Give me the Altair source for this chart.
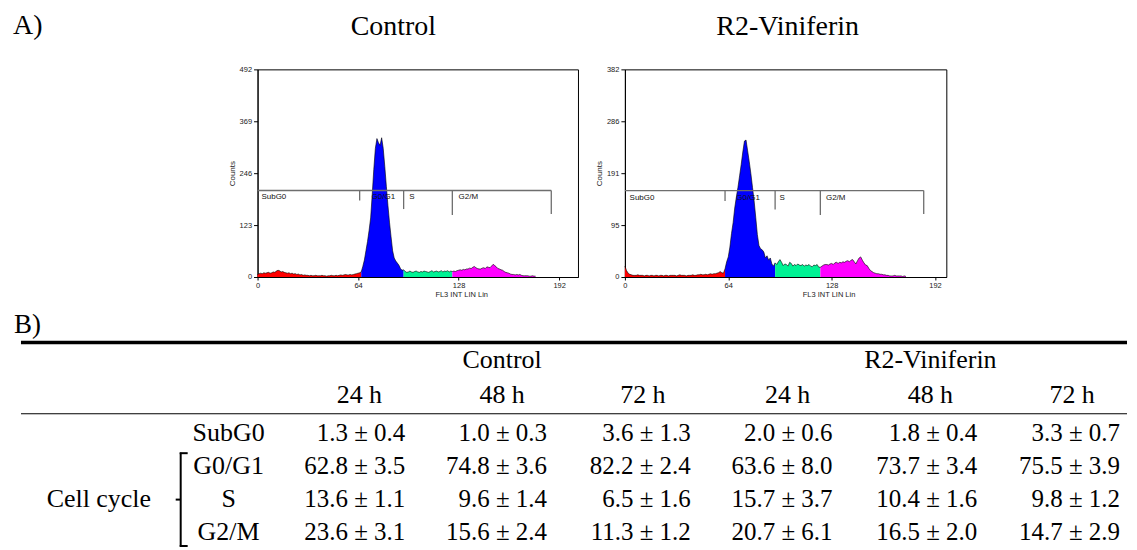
import altair as alt
import pandas as pd

# ---------------- data ----------------
phases = ["SubG0", "G0/G1", "S", "G2/M"]
phase_colors = ["#FF0000", "#0000FF", "#00F294", "#FF00FF"]

# Control histogram (counts per FL3 channel, consecutive channels starting at 0)
ctrl_subg0 = [6, 8, 9, 8, 10, 9, 10, 11, 9, 10,
              12, 11, 14, 16, 15, 12, 13, 11, 10, 9,
              10, 8, 9, 7, 8, 6, 7, 5, 6, 4,
              5, 4, 4, 3, 4, 3, 3, 4, 3, 3,
              3, 4, 3, 3, 2, 3, 3, 4, 3, 3,
              4, 3, 4, 5, 4, 5, 6, 5, 5, 6,
              5, 6, 7, 8, 9, 10]
ctrl_g0g1 = [12, 25, 40, 62, 84, 110, 140, 195, 255, 305, 328, 318, 312, 330,
             305, 262, 215, 170, 130, 95, 62, 45, 38, 33, 28, 20, 16]
ctrl_s = [17, 13, 11, 12, 14, 12, 11, 13, 14, 12, 11, 13, 12, 14, 13, 12,
          11, 13, 15, 12, 13, 14, 12, 13, 15, 12, 14, 13, 15, 12, 14]
ctrl_g2m = [13, 14, 13, 15, 16, 17, 16, 18, 17, 19, 19, 21, 20, 23, 25, 22,
            20, 19, 19, 21, 22, 20, 24, 23, 22, 26, 30, 27, 24, 20, 19, 17,
            16, 13, 11, 10, 9, 7, 6, 6, 5, 6, 5, 6, 4, 3, 3, 3, 3, 2, 2, 3, 2, 2]

# R2-Viniferin histogram
r2_subg0 = [20, 12, 7, 5, 4, 3, 3, 3, 4, 3,
            3, 3, 2, 3, 3, 2, 3, 3, 2, 3,
            3, 2, 3, 3, 2, 3, 3, 2, 3, 3,
            3, 3, 2, 3, 4, 3, 3, 3, 2, 3,
            3, 3, 4, 3, 3, 4, 4, 5, 4, 4,
            5, 4, 5, 6, 5, 6, 6, 7, 8, 10,
            8, 7]
r2_g0g1 = [15, 28, 37, 55, 80, 100, 127, 147, 165, 186, 207, 230, 250, 252,
           232, 212, 190, 165, 140, 110, 78, 58, 52, 50, 46, 35, 39, 31, 35, 24, 20]
r2_s = [26, 23, 28, 32, 27, 21, 24, 23, 20, 27, 25, 20, 23, 21, 24, 22,
        21, 23, 20, 22, 21, 23, 20, 19, 22, 21, 23, 18]
r2_g2m = [18, 20, 22, 23, 23, 22, 24, 25, 23, 26, 27, 25, 27, 26, 28, 27,
          29, 30, 28, 31, 32, 28, 24, 30, 35, 37, 31, 26, 22, 21, 16, 12,
          10, 8, 7, 6, 6, 5, 5, 4, 4, 3, 3, 2, 2, 2, 3, 2, 2, 2, 2, 1, 2, 1]

# gate markers (channel edges, marker level and tick bottoms in counts)
ctrl_gate_edges = [0, 65, 93, 124, 187]
ctrl_gate_level = 205
ctrl_gate_bottoms = [181, 161, 147, 149]
r2_gate_edges = [0, 62, 93, 121, 185]
r2_gate_level = 159
r2_gate_bottoms = [140, 124, 114, 116]

ctrl_yticks = [0, 123, 246, 369, 492]
r2_yticks = [0, 95, 191, 286, 382]
x_ticks = [0, 64, 128, 192]

# table values (mean, sd) in phase order
times = ["24 h", "48 h", "72 h", "24 h", "48 h", "72 h"]
groups = ["Control", "R2-Viniferin"]
ctrl24_mean = [1.3, 62.8, 13.6, 23.6]; ctrl24_sd = [0.4, 3.5, 1.1, 3.1]
ctrl48_mean = [1.0, 74.8, 9.6, 15.6];  ctrl48_sd = [0.3, 3.6, 1.4, 2.4]
ctrl72_mean = [3.6, 82.2, 6.5, 11.3];  ctrl72_sd = [1.3, 2.4, 1.6, 1.2]
r2_24_mean = [2.0, 63.6, 15.7, 20.7];  r2_24_sd = [0.6, 8.0, 3.7, 6.1]
r2_48_mean = [1.8, 73.7, 10.4, 16.5];  r2_48_sd = [0.4, 3.4, 1.6, 2.0]
r2_72_mean = [3.3, 75.5, 9.8, 14.7];   r2_72_sd = [0.7, 3.9, 1.2, 2.9]

# ---------------- layout (page pixels) ----------------
W = 1121
HEAD_H = 55
HIST_H = 208
TABLE_TOP = 297           # page y where the table panel starts
TABLE_H = 546 - TABLE_TOP
ctrl_label_ch = [2.5, 72.6, 96.5, 128]
r2_label_ch = [2.9, 69, 95.7, 124.5]

head_px = {"A)": (13, 34), "Control": (394, 35), "R2-Viniferin": (789, 35)}
b_px = (14, 331)
thick_y, thin_y, line_x0, line_x1 = 340.5, 412, 21, 1129
group_base, group_cx = 366, [503, 932]
hour_base, hour_cx = 401, [360, 503, 644, 789, 932, 1074]
row_base = [439, 472, 505, 538]
row_label_cx = 229
col_right = [406, 548, 692, 834, 979, 1122]
cell_cycle_cx = 99
br_x, br_top, br_bot, br_serif, br_nub, br_nub_y = 181, 451, 545, 188, 176, 498

SERIF = "Liberation Serif"
SANS = "Liberation Sans"


def histogram(arrays, xmax, ymax, yticks, edges, level, bottoms, label_ch, width):
    rows, outline = [], []
    start = 0
    for i, (ph, arr) in enumerate(zip(phases, arrays)):
        for j, v in enumerate(arr):
            rows.append({"ch": start + j, "count": v, "phase": ph})
            outline.append({"ch": start + j, "count": v})
        if i < len(arrays) - 1:
            rows.append({"ch": start + len(arr), "count": arrays[i + 1][0], "phase": ph})
        start += len(arr)
    df = pd.DataFrame(rows)
    df_out = pd.DataFrame(outline)

    xs = alt.Scale(domain=[0, xmax], nice=False, zero=False)
    ys = alt.Scale(domain=[0, ymax], nice=False, zero=False)
    x_axis = alt.Axis(values=x_ticks, title="FL3 INT LIN Lin", grid=False, tickSize=3,
                      tickColor="black", domainColor="black", labelFont=SANS,
                      labelFontSize=7.5, labelColor="#222", labelPadding=2, labelAngle=0,
                      labelFlush=False, titleFont=SANS, titleFontSize=7.5,
                      titleFontWeight="normal", titleColor="#222", titleX=204, titleY=18,
                      titleBaseline="middle", titleAlign="center")
    y_axis = alt.Axis(values=yticks, title="Counts", grid=False, tickSize=4,
                      tickColor="black", domainColor="black", labelFont=SANS,
                      labelFontSize=7.5, labelColor="#222", labelPadding=2,
                      titleFont=SANS, titleFontSize=8, titleFontWeight="normal",
                      titleColor="#222", titlePadding=3)

    def XE(f):
        return alt.X(f, scale=xs, axis=x_axis, title="FL3 INT LIN Lin")

    def YE(f):
        return alt.Y(f, scale=ys, axis=y_axis, title="Counts")

    area = alt.Chart(df).mark_area(interpolate="linear", opacity=1).encode(
        x=XE("ch:Q"),
        y=alt.Y("count:Q", scale=ys, axis=y_axis, title="Counts", stack=None),
        color=alt.Color("phase:N", scale=alt.Scale(domain=phases, range=phase_colors),
                        legend=None),
    )
    line = alt.Chart(df_out).mark_line(color="black", strokeWidth=0.6).encode(
        x=XE("ch:Q"), y=YE("count:Q"),
    )
    gate_df = pd.DataFrame({"x0": [edges[0]], "x1": [edges[-1]], "lv": [level]})
    gate = alt.Chart(gate_df).mark_rule(color="#6e6e6e", strokeWidth=1.3).encode(
        x=XE("x0:Q"), x2="x1:Q", y=YE("lv:Q"),
    )
    tick_df = pd.DataFrame({"e": edges[1:], "lv": [level] * len(bottoms), "bt": bottoms})
    ticks = alt.Chart(tick_df).mark_rule(color="#6e6e6e", strokeWidth=1.3).encode(
        x=XE("e:Q"), y=YE("lv:Q"), y2="bt:Q",
    )
    lab_df = pd.DataFrame({"lx": label_ch, "lv": [level] * 4, "name": phases})
    labels = alt.Chart(lab_df).mark_text(align="left", baseline="top", dy=3,
                                         font=SANS, fontSize=8, color="#111").encode(
        x=XE("lx:Q"), y=YE("lv:Q"), text="name:N",
    )
    return alt.layer(area, line, gate, ticks, labels).properties(
        width=width, height=HIST_H,
        view=alt.ViewBackground(stroke="black", strokeWidth=1),
    )


hist_ctrl = histogram([ctrl_subg0, ctrl_g0g1, ctrl_s, ctrl_g2m], 204, 492, ctrl_yticks,
                      ctrl_gate_edges, ctrl_gate_level, ctrl_gate_bottoms, ctrl_label_ch, 321)
hist_r2 = histogram([r2_subg0, r2_g0g1, r2_s, r2_g2m], 199, 382, r2_yticks,
                    r2_gate_edges, r2_gate_level, r2_gate_bottoms, r2_label_ch, 322)

spacer = alt.Chart(pd.DataFrame({"s": [0]})).mark_text(text="").encode(
    x=alt.value(0), y=alt.value(0)).properties(width=203, height=HIST_H)

hist_row = alt.hconcat(spacer, hist_ctrl, hist_r2, spacing=47, bounds="flush")

# ---------------- header ----------------
hx = alt.Scale(domain=[0, W], nice=False, zero=False)
hy = alt.Scale(domain=[0, HEAD_H], nice=False, zero=False, reverse=True)
head_df = pd.DataFrame({
    "t": list(head_px.keys()),
    "x": [v[0] - 8 for v in head_px.values()],
    "y": [v[1] - 8 for v in head_px.values()],
    "al": ["left", "center", "center"],
})
head_left = alt.Chart(head_df[head_df.al == "left"]).mark_text(
    align="left", baseline="alphabetic", font=SERIF, fontSize=28, color="black").encode(
    x=alt.X("x:Q", scale=hx, axis=None), y=alt.Y("y:Q", scale=hy, axis=None), text="t:N")
head_center = alt.Chart(head_df[head_df.al == "center"]).mark_text(
    align="center", baseline="alphabetic", font=SERIF, fontSize=28, color="black").encode(
    x=alt.X("x:Q", scale=hx, axis=None), y=alt.Y("y:Q", scale=hy, axis=None), text="t:N")
header = alt.layer(head_left, head_center).properties(width=W, height=HEAD_H)

# ---------------- table ----------------
tx = alt.Scale(domain=[0, W], nice=False, zero=False)
ty = alt.Scale(domain=[0, TABLE_H], nice=False, zero=False, reverse=True)


def X(f):
    return alt.X(f, scale=tx, axis=None)


def Y(f):
    return alt.Y(f, scale=ty, axis=None)


def ty_(v):
    return v - TABLE_TOP


means = [ctrl24_mean, ctrl48_mean, ctrl72_mean, r2_24_mean, r2_48_mean, r2_72_mean]
sds = [ctrl24_sd, ctrl48_sd, ctrl72_sd, r2_24_sd, r2_48_sd, r2_72_sd]
cells = []
for k, (m, s) in enumerate(zip(means, sds)):
    for i in range(len(phases)):
        cells.append({"t": f"{m[i]:.1f} ± {s[i]:.1f}", "x": col_right[k] - 8,
                      "y": ty_(row_base[i])})
cell_df = pd.DataFrame(cells)

txt = dict(baseline="alphabetic", font=SERIF, color="black")

cells_layer = alt.Chart(cell_df).mark_text(align="right", fontSize=25, **txt).encode(
    x=X("x:Q"), y=Y("y:Q"), text="t:N")

hour_df = pd.DataFrame({"t": times, "x": [c - 8 for c in hour_cx],
                        "y": [ty_(hour_base)] * 6})
hours_layer = alt.Chart(hour_df).mark_text(align="center", fontSize=26, **txt).encode(
    x=X("x:Q"), y=Y("y:Q"), text="t:N")

grp_df = pd.DataFrame({"t": groups, "x": [c - 8 for c in group_cx],
                       "y": [ty_(group_base)] * 2})
grp_layer = alt.Chart(grp_df).mark_text(align="center", fontSize=26, **txt).encode(
    x=X("x:Q"), y=Y("y:Q"), text="t:N")

rowlab_df = pd.DataFrame({"t": phases, "x": [row_label_cx - 8] * 4,
                          "y": [ty_(b) for b in row_base]})
rowlab_layer = alt.Chart(rowlab_df).mark_text(align="center", fontSize=26, **txt).encode(
    x=X("x:Q"), y=Y("y:Q"), text="t:N")

misc_df = pd.DataFrame({"t": ["Cell cycle"], "x": [cell_cycle_cx - 8],
                        "y": [ty_(row_base[2])]})
misc_layer = alt.Chart(misc_df).mark_text(align="center", fontSize=26, **txt).encode(
    x=X("x:Q"), y=Y("y:Q"), text="t:N")

b_df = pd.DataFrame({"t": ["B)"], "x": [b_px[0] - 8], "y": [ty_(b_px[1])]})
b_layer = alt.Chart(b_df).mark_text(align="left", fontSize=27, **txt).encode(
    x=X("x:Q"), y=Y("y:Q"), text="t:N")

thick_df = pd.DataFrame({"x0": [line_x0 - 8], "x1": [line_x1 - 8], "y": [ty_(thick_y)]})
thick = alt.Chart(thick_df).mark_rule(color="black", strokeWidth=3.5).encode(
    x=X("x0:Q"), x2="x1:Q", y=Y("y:Q"))
thin_df = pd.DataFrame({"x0": [line_x0 - 8], "x1": [line_x1 - 8], "y": [ty_(thin_y)]})
thin = alt.Chart(thin_df).mark_rule(color="black", strokeWidth=1.2).encode(
    x=X("x0:Q"), x2="x1:Q", y=Y("y:Q"))

# bracket around the cell-cycle rows
br_v = pd.DataFrame({"x": [br_x - 8], "y0": [ty_(br_top)], "y1": [ty_(br_bot)]})
br_vert = alt.Chart(br_v).mark_rule(color="black", strokeWidth=2).encode(
    x=X("x:Q"), y=Y("y0:Q"), y2="y1:Q")
br_h = pd.DataFrame({"x0": [br_x - 9, br_x - 9, br_nub - 8],
                     "x1": [br_serif - 8, br_serif - 8, br_x - 8],
                     "y": [ty_(br_top + 0.5), ty_(br_bot - 0.5), ty_(br_nub_y)]})
br_horiz = alt.Chart(br_h).mark_rule(color="black", strokeWidth=2).encode(
    x=X("x0:Q"), x2="x1:Q", y=Y("y:Q"))

table = alt.layer(thick, thin, b_layer, grp_layer, hours_layer, rowlab_layer, misc_layer,
                  cells_layer, br_vert, br_horiz).properties(width=W, height=TABLE_H)

chart = alt.vconcat(header, hist_row, table, spacing=0).properties(
    padding=0
).configure_view(stroke=None)

chart.save("out.html", embed_options={"renderer": "svg", "actions": False})
